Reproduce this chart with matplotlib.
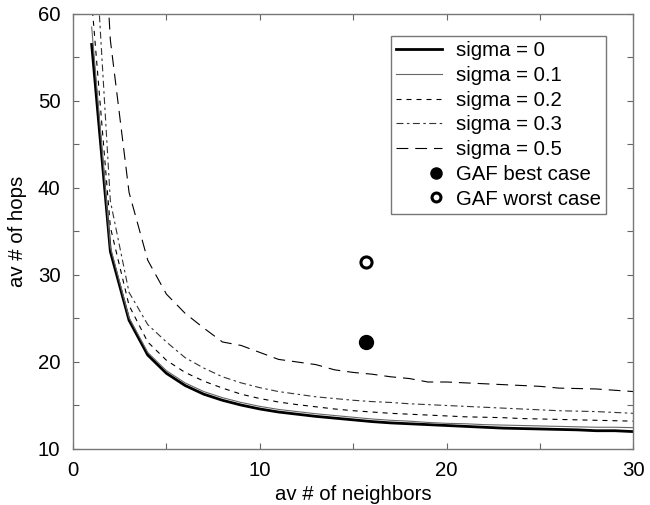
import numpy as np
import matplotlib
matplotlib.use('Agg')
import matplotlib.pyplot as plt
from matplotlib.legend_handler import HandlerLine2D

plt.rcParams['font.family'] = ['Liberation Sans', 'DejaVu Sans']
plt.rcParams['font.size'] = 14.7
plt.rcParams['lines.scale_dashes'] = False

# data
neighbors = np.arange(1, 31)

hops_s0 = [56.5, 32.7, 24.8, 20.8, 18.7, 17.3, 16.3, 15.6, 15.05, 14.6,
           14.25, 14.0, 13.75, 13.55, 13.35, 13.15, 13.0, 12.9, 12.8, 12.7,
           12.6, 12.5, 12.4, 12.35, 12.3, 12.25, 12.2, 12.1, 12.1, 12.0]
hops_s01 = [58.5, 33.2, 25.1, 21.1, 19.0, 17.6, 16.6, 15.9, 15.35, 14.9,
            14.55, 14.3, 14.05, 13.85, 13.65, 13.45, 13.3, 13.2, 13.05, 12.95,
            12.9, 12.8, 12.75, 12.7, 12.65, 12.6, 12.55, 12.5, 12.5, 12.45]
hops_s02 = [61.5, 35.5, 26.5, 22.3, 20.2, 18.8, 17.8, 17.0, 16.3, 15.8,
            15.4, 15.1, 14.85, 14.6, 14.4, 14.25, 14.1, 14.0, 13.9, 13.8,
            13.7, 13.65, 13.6, 13.5, 13.45, 13.4, 13.35, 13.3, 13.25, 13.2]
hops_s03 = [75.0, 38.5, 28.0, 24.3, 22.3, 20.5, 19.3, 18.3, 17.6, 17.05,
            16.6, 16.3, 16.0, 15.8, 15.6, 15.45, 15.35, 15.2, 15.1, 15.0,
            14.9, 14.8, 14.7, 14.6, 14.5, 14.4, 14.35, 14.3, 14.2, 14.1]
hops_s05 = [95.0, 57.0, 39.5, 31.7, 27.8, 25.6, 23.9, 22.3, 21.9, 21.1,
            20.3, 20.0, 19.7, 19.1, 18.8, 18.6, 18.3, 18.1, 17.7, 17.7,
            17.6, 17.5, 17.4, 17.3, 17.2, 17.0, 16.95, 16.9, 16.75, 16.6]

gaf_x = 15.7
gaf_best = 22.3
gaf_worst = 31.5


class RightMarker(HandlerLine2D):
    # puts the legend marker near the right end of the handle
    def get_xdata(self, legend, xdescent, ydescent, width, height, fontsize):
        m = -xdescent + width - 0.3 * fontsize
        return [m - 1, m + 1], [m]


fig = plt.figure(figsize=(6.5, 5.05), dpi=100)
ax = fig.add_axes([0.1123, 0.1109, 0.8623, 0.8614])

ax.plot(neighbors, hops_s0, color='black', lw=2.0, label='sigma = 0')
ax.plot(neighbors, hops_s01, color='#666666', lw=0.8, label='sigma = 0.1')
ax.plot(neighbors, hops_s02, color='black', lw=0.8, dashes=(3.6, 3.6), label='sigma = 0.2')
ax.plot(neighbors, hops_s03, color='#333333', lw=0.8, dashes=(5, 2.5, 1.8, 2.5), label='sigma = 0.3')
ax.plot(neighbors, hops_s05, color='black', lw=0.8, dashes=(8.5, 5), label='sigma = 0.5')
best, = ax.plot([gaf_x], [gaf_best], 'o', color='black', ms=10, mec='black', label='GAF best case')
worst, = ax.plot([gaf_x], [gaf_worst], 'o', mfc='white', mec='black', ms=8, mew=2.2, label='GAF worst case')

ax.set_xlim(0, 30)
ax.set_ylim(10, 60)
ax.set_xticks([0, 10, 20, 30])
ax.set_xticks([5, 15, 25], minor=True)
ax.set_yticks([10, 20, 30, 40, 50, 60])
ax.set_yticks([15, 25, 35, 45, 55], minor=True)
ax.tick_params(which='both', direction='in', top=True, right=True, length=4.5,
               width=0.8, color='#666666', labelsize=14.7, pad=9)

for sp in ax.spines.values():
    sp.set_color('#777777')
    sp.set_linewidth(1.0)

ax.set_xlabel('av # of neighbors', fontsize=14.7, labelpad=3.5)
ax.set_ylabel('av # of hops', fontsize=14.7, labelpad=8)

leg = ax.legend(loc='upper right', bbox_to_anchor=(0.951, 0.949), borderaxespad=0,
                fancybox=False, framealpha=1, edgecolor='#777777', fontsize=14.7,
                handlelength=2.25, handletextpad=0.7, labelspacing=0.28,
                borderpad=0.25, markerscale=0.8, numpoints=1,
                handler_map={best: RightMarker(), worst: RightMarker()})
leg.get_frame().set_linewidth(1.0)

fig.savefig('out.png', dpi=100)
